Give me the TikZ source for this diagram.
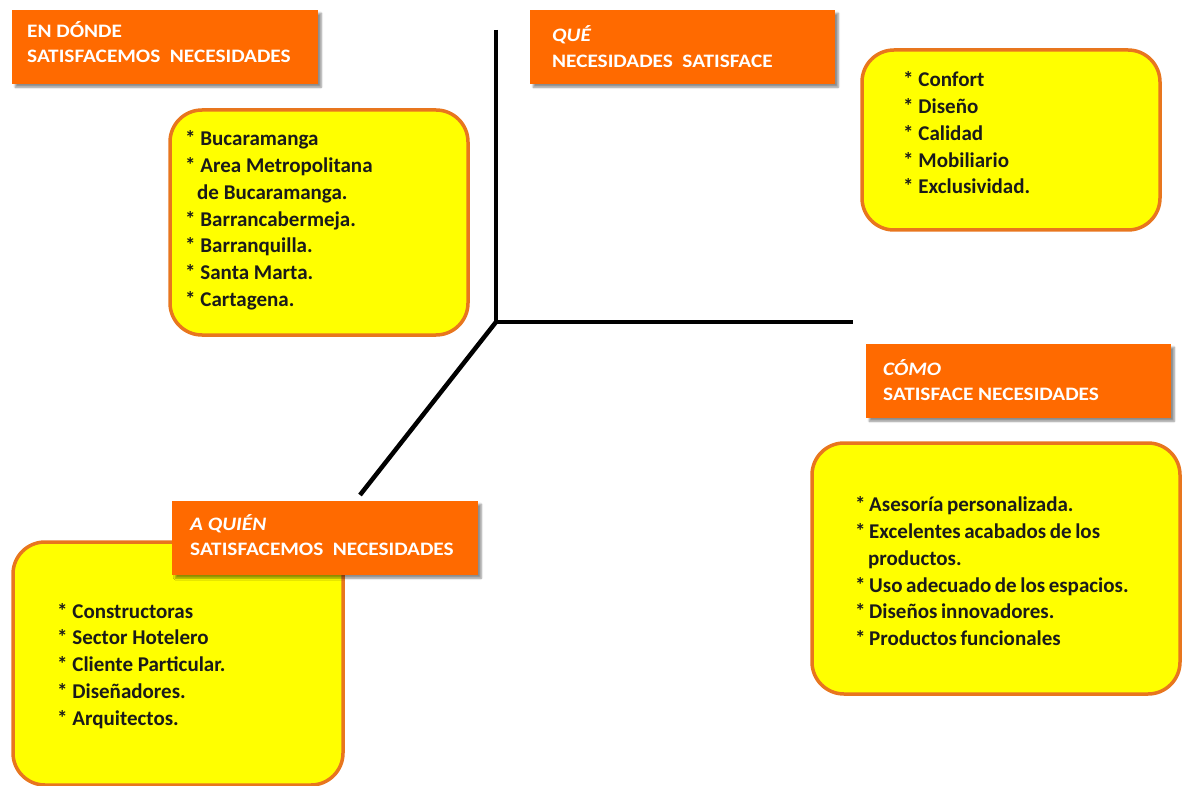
\documentclass[tikz,border=0pt]{standalone}
\usepackage{fontspec}
\setmainfont{Carlito}
\newfontfamily\hdrfont[FakeStretch=1.12]{Carlito}
\usetikzlibrary{shadows.blur}

\definecolor{hdrorange}{HTML}{FF6A00}
\definecolor{boxyellow}{HTML}{FFFF00}
\definecolor{boxedge}{HTML}{E8761E}
\definecolor{ink}{HTML}{1A1A1A}

\tikzset{
  header/.style={fill=hdrorange, draw=none, inner sep=0pt, anchor=north west,
    blur shadow={shadow xshift=3pt, shadow yshift=-3pt, shadow opacity=45, shadow blur steps=6}},
  listbox/.style={fill=boxyellow, draw=boxedge, line width=3.5pt, rounded corners=32pt},
  htext/.style={anchor=base west, inner sep=0pt, text=white,
    font=\hdrfont\bfseries\fontsize{19}{25.5}\selectfont},
  ltext/.style={anchor=base west, inner sep=0pt, text=ink,
    font=\bfseries\fontsize{21}{26.8}\selectfont},
  axisline/.style={line width=4.5pt, black}
}

\begin{document}
\begin{tikzpicture}[x=1pt, y=-1pt]
  \useasboundingbox (0,0) rectangle (1182,786);

  % the three axes meeting at the centre
  \coordinate (centre) at (496,322);
  \coordinate (axtop) at (496,30);
  \coordinate (axright) at (853,322);
  \coordinate (axdiag) at (360,495);
  \draw[axisline] (axtop) -- (centre) -- (axright);
  \draw[axisline] (centre) -- (axdiag);

  % ---- EN DONDE ----
  \node[header, minimum width=306pt, minimum height=74pt] (hdonde) at (12,10) {};
  \node[htext] (tdonde) at (27,37.3) {\parbox[t]{290pt}{EN DÓNDE\\SATISFACEMOS\hspace{0.25em} NECESIDADES}};
  \draw[listbox] (170,110) rectangle (468,335);
  \node[ltext] (ldonde) at (185,145.7) {\parbox[t]{280pt}{%
    {*} Bucaramanga\\
    {*} Area Metropolitana\\
    \hspace*{12pt}de Bucaramanga.\\
    {*} Barrancabermeja.\\
    {*} Barranquilla.\\
    {*} Santa Marta.\\
    {*} Cartagena.}};

  % ---- QUE ----
  \node[header, minimum width=305pt, minimum height=74pt] (hque) at (530,10) {};
  \node[htext] (tque) at (552,41.7) {\parbox[t]{280pt}{\itshape QUÉ\\\upshape NECESIDADES\hspace{0.25em} SATISFACE}};
  \draw[listbox] (862,50) rectangle (1160,230);
  \node[ltext] (lque) at (903,86.7) {\parbox[t]{250pt}{%
    {*} Confort\\
    {*} Diseño\\
    {*} Calidad\\
    {*} Mobiliario\\
    {*} Exclusividad.}};

  % ---- COMO ----
  \node[header, minimum width=305pt, minimum height=74pt] (hcomo) at (866,344) {};
  \node[htext] (tcomo) at (883,375) {\parbox[t]{280pt}{\itshape CÓMO\\\upshape SATISFACE NECESIDADES}};
  \draw[listbox] (812,443) rectangle (1180,694);
  \node[ltext] (lcomo) at (855,511.7) {\parbox[t]{320pt}{\spaceskip=0.17em plus 0.05em
    {*} Asesoría personalizada.\\
    {*} Excelentes acabados de los\\
    \hspace*{13pt}productos.\\
    {*} Uso adecuado de los espacios.\\
    {*} Diseños innovadores.\\
    {*} Productos funcionales}};

  % ---- A QUIEN ----
  \draw[listbox] (13,542) rectangle (343,785);
  \node[ltext] (lquien) at (57,618) {\parbox[t]{280pt}{%
    {*} Constructoras\\
    {*} Sector Hotelero\\
    {*} Cliente Particular.\\
    {*} Diseñadores.\\
    {*} Arquitectos.}};
  \node[header, minimum width=306pt, minimum height=74pt] (hquien) at (172,501) {};
  \node[htext] (tquien) at (190,530) {\parbox[t]{280pt}{\itshape A QUIÉN\\\upshape SATISFACEMOS\hspace{0.25em} NECESIDADES}};
\end{tikzpicture}
\end{document}
